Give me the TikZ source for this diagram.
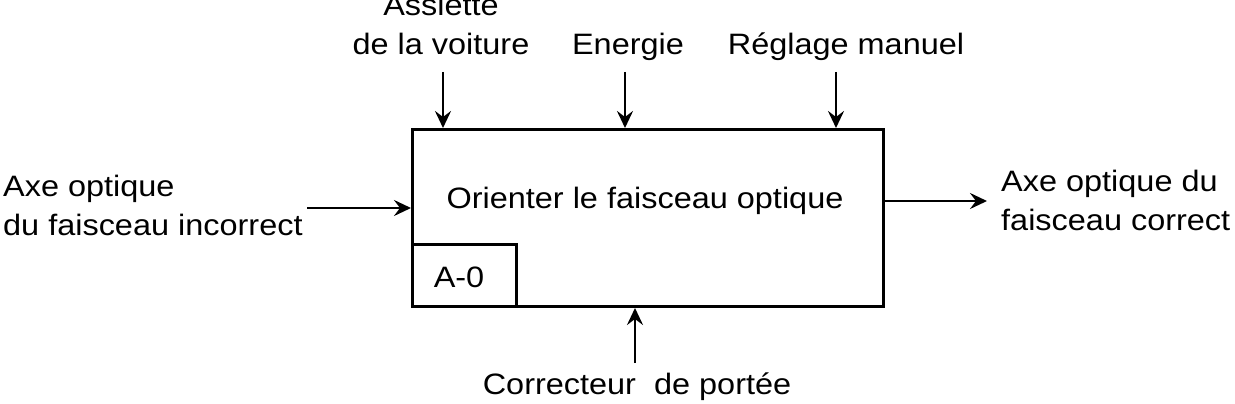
\documentclass[tikz,border=0pt]{standalone}
\usepackage{fontspec}
\setmainfont{Liberation Sans}
\newfontfamily\lblfont[FakeStretch=1.1]{Liberation Sans}
\usetikzlibrary{arrows.meta}
\begin{document}
\begin{tikzpicture}[x=1pt,y=-1pt,
  lbl/.style={font=\lblfont\fontsize{29.5}{39}\selectfont, inner sep=0pt, align=center},
  lblL/.style={font=\lblfont\fontsize{29.5}{39}\selectfont, inner sep=0pt, align=left},
  flow/.style={line width=2.6pt, -{Stealth[length=17pt,width=16pt,inset=6pt]}},
  boxline/.style={draw, line width=3pt}]
\useasboundingbox (0,0) rectangle (1235,404);
% main box
\node[boxline, minimum width=471pt, minimum height=177pt, anchor=north west, inner sep=0pt] (box) at (411,128) {};
\node[lbl, anchor=base] (title) at (645,208) {Orienter le faisceau optique};
% A-0 box
\node[boxline, minimum width=104pt, minimum height=62pt, anchor=north west, inner sep=0pt] (a0) at (411,243) {};
\node[lbl, anchor=base] (a0t) at (459,287) {A-0};
% top labels
\node[lbl, anchor=base] (assiette) at (441,55) {Assiette\\de la voiture};
\node[lbl, anchor=base] (energie) at (628,55) {Energie};
\node[lbl, anchor=base] (reglage) at (846,55) {Réglage manuel};
% left and right labels
\node[lblL, anchor=base west] (inp) at (3,235) {Axe optique\\du faisceau incorrect};
\node[lblL, anchor=base west] (outp) at (1001,230) {Axe optique du\\faisceau correct};
% bottom label
\node[lbl, anchor=base] (corr) at (637,394) {Correcteur~~de portée};
% free ends
\coordinate (c1) at (443,72);
\coordinate (c2) at (625,72);
\coordinate (c3) at (836,72);
\coordinate (cin) at (307,208);
\coordinate (cout) at (987,201);
\coordinate (cm) at (635,363);
% connectors
\draw[flow] (c1) -- (c1 |- box.north);
\draw[flow] (c2) -- (c2 |- box.north);
\draw[flow] (c3) -- (c3 |- box.north);
\draw[flow] (cin) -- (cin -| box.west);
\draw[flow] (cout -| box.east) -- (cout);
\draw[flow] (cm) -- (cm |- box.south);
\end{tikzpicture}
\end{document}
